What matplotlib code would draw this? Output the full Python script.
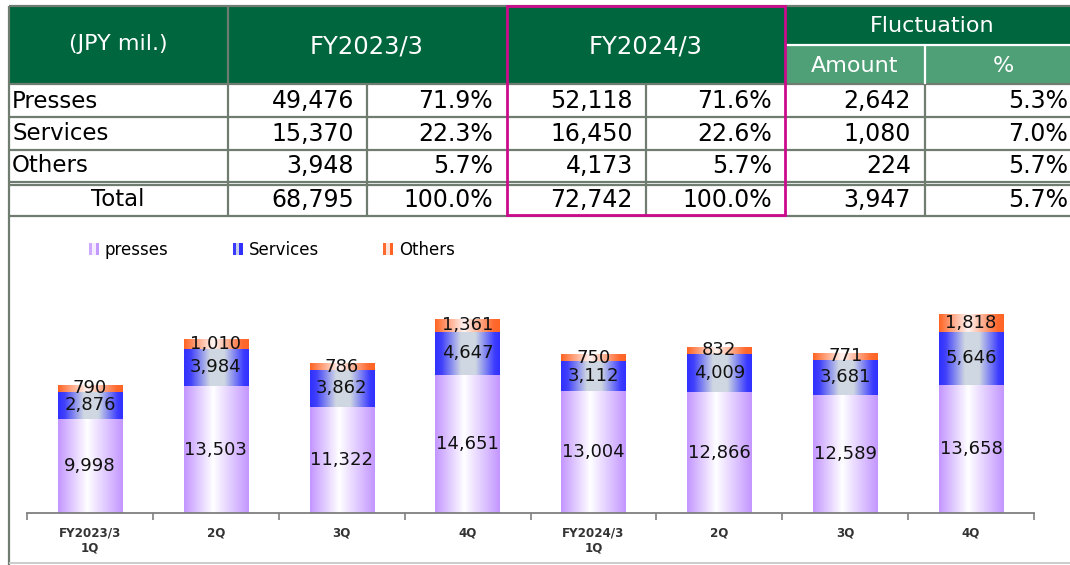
import numpy as np
import matplotlib
matplotlib.use("Agg")
import matplotlib.pyplot as plt
from matplotlib.patches import Rectangle, Patch
from matplotlib.colors import LinearSegmentedColormap
from matplotlib.legend_handler import HandlerBase

plt.rcParams['font.family'] = ['DejaVu Sans']

# ---------------- data ----------------
row_labels = ['Presses', 'Services', 'Others', 'Total']
fy23_amt = [49476, 15370, 3948, 68795]
fy23_pct = [71.9, 22.3, 5.7, 100.0]
fy24_amt = [52118, 16450, 4173, 72742]
fy24_pct = [71.6, 22.6, 5.7, 100.0]
fluct_amt = [2642, 1080, 224, 3947]
fluct_pct = [5.3, 7.0, 5.7, 5.7]

header_unit = '(JPY mil.)'
header_fy23 = 'FY2023/3'
header_fy24 = 'FY2024/3'
header_fluct = 'Fluctuation'
header_amount = 'Amount'
header_pct = '%'

quarters = ['FY2023/3\n1Q', '2Q', '3Q', '4Q', 'FY2024/3\n1Q', '2Q', '3Q', '4Q']
series_names = ['presses', 'Services', 'Others']
presses = [9998, 13503, 11322, 14651, 13004, 12866, 12589, 13658]
services = [2876, 3984, 3862, 4647, 3112, 4009, 3681, 5646]
others = [790, 1010, 786, 1361, 750, 832, 771, 1818]

# ---------------- styles ----------------
W, H = 1070, 565
GREEN = '#00663e'
LGREEN = '#50a077'
GRAY = '#6f7d71'
MAGENTA = '#cc0a8c'

fig = plt.figure(figsize=(W / 100, H / 100), dpi=100)

# ---------------- chart ----------------
ax = fig.add_axes([27 / W, (H - 513) / H, (1034 - 27) / W, (513 - 230) / H])
ax.set_facecolor('none')

grad = np.linspace(0, 1, 256).reshape(1, -1)
cm_press = LinearSegmentedColormap.from_list('p', [(0, '#c396ff'), (0.45, '#ffffff'), (1, '#c396ff')])
cm_serv = LinearSegmentedColormap.from_list('s', [(0, '#3030ff'), (0.1, '#4040fb'), (0.4, '#cfd7e2'),
                                                  (0.62, '#cfd7e2'), (0.92, '#3c3cff'), (1, '#3030ff')])
cm_oth = LinearSegmentedColormap.from_list('o', [(0, '#ff6424'), (0.45, '#fff4f2'), (0.9, '#ff6a30'), (1, '#ff6424')])

x = np.arange(len(quarters))
bw = 0.51
bottoms = np.zeros(len(quarters))
for vals, cmap in [(presses, cm_press), (services, cm_serv), (others, cm_oth)]:
    bars = ax.bar(x, vals, bw, bottom=bottoms, facecolor='none', edgecolor='none', zorder=2)
    for r in bars:
        x0, y0 = r.get_xy()
        im = ax.imshow(grad, cmap=cmap, extent=(x0, x0 + r.get_width(), y0, y0 + r.get_height()),
                       aspect='auto', interpolation='bilinear', origin='lower', zorder=2)
        im.set_clip_path(r)
    ax.bar_label(bars, labels=[f'{v:,}' for v in vals], label_type='center', fontsize=13,
                 color='#111111', zorder=4)
    bottoms = bottoms + np.array(vals)

ax.set_aspect('auto')
ax.set_xlim(-0.5, len(quarters) - 0.5)
ax.set_ylim(0, 30100)
for s in ['top', 'right', 'left']:
    ax.spines[s].set_visible(False)
ax.spines['bottom'].set_color('#7f7f7f')
ax.spines['bottom'].set_linewidth(1.3)
ax.set_yticks([])
ax.set_xticks(np.arange(-0.5, len(quarters)))
ax.set_xticklabels([])
ax.set_xticks(x, labels=quarters, minor=True)
ax.tick_params(axis='x', which='major', length=5, width=1.2, color='#7f7f7f', direction='out')
ax.tick_params(axis='x', which='minor', length=0, pad=9.5, labelsize=8.6, labelcolor='#333333')
for t in ax.get_xticklabels(minor=True):
    t.set_fontweight('bold')
    t.set_linespacing(1.25)


class StripeHandler(HandlerBase):
    def __init__(self, colors):
        super().__init__()
        self.colors = colors

    def create_artists(self, legend, orig_handle, xdescent, ydescent, width, height, fontsize, trans):
        n = len(self.colors)
        arts = []
        for i, c in enumerate(self.colors):
            arts.append(Rectangle((-xdescent + i * width / n, -ydescent), width / n, height,
                                  facecolor=c, edgecolor='none', transform=trans))
        return arts


handles = [Patch(label=n) for n in series_names]
hmap = {
    handles[0]: StripeHandler(['#cfa8ff', '#f4ecff', '#c598ff']),
    handles[1]: StripeHandler(['#3a3aff', '#c8d0ea', '#3030ff']),
    handles[2]: StripeHandler(['#ff6a30', '#ffe4dc', '#ff6424']),
}
fig.legend(handles=handles, handler_map=hmap, loc='center left',
           bbox_to_anchor=(89 / W, 1 - 250 / H), bbox_transform=fig.transFigure,
           ncol=3, frameon=False, fontsize=12, handlelength=0.6, handleheight=0.75,
           handletextpad=0.35, columnspacing=3.85, borderpad=0, borderaxespad=0)

# ---------------- table (pixel coordinates overlay) ----------------
ov = fig.add_axes([0, 0, 1, 1], zorder=5)
ov.set_xlim(0, W)
ov.set_ylim(H, 0)
ov.axis('off')
ov.patch.set_visible(False)

# header fills
ov.add_patch(Rectangle((9, 6), W - 9, 84 - 6, facecolor=GREEN, edgecolor='none'))
ov.add_patch(Rectangle((785, 45), W - 785, 84 - 45, facecolor=LGREEN, edgecolor='none'))

lw = 1.6
def hline(y, x0, x1, c=GRAY, w=lw):
    ov.plot([x0, x1], [y, y], color=c, lw=w, solid_capstyle='butt')
def vline(x_, y0, y1, c=GRAY, w=lw):
    ov.plot([x_, x_], [y0, y1], color=c, lw=w, solid_capstyle='butt')

hline(6, 9, W)
vline(9, 6, H)
hline(84, 9, W)
for yy in [117, 150, 182, 185, 216]:
    hline(yy, 9, W)
vline(228, 6, 216)
for xx in [367, 646, 925]:
    vline(xx, 84, 216)
hline(45, 786, W, c='white', w=1.6)
vline(925, 45, 84, c='white', w=1.6)
hline(563, 9, W, c='#c8c8c8', w=1.3)

# magenta highlight
ov.add_patch(Rectangle((507, 6), 785 - 507, 215 - 6, facecolor='none', edgecolor=MAGENTA, lw=2.0, zorder=6))

hfs = 16
ov.text(118, 44, header_unit, color='white', fontsize=hfs, ha='center', va='center')
ov.text(367, 46, header_fy23, color='white', fontsize=17.5, ha='center', va='center')
ov.text(646, 46, header_fy24, color='white', fontsize=17.5, ha='center', va='center')
ov.text(932, 26, header_fluct, color='white', fontsize=hfs, ha='center', va='center')
ov.text(855, 66, header_amount, color='white', fontsize=hfs, ha='center', va='center')
ov.text(1003, 66, header_pct, color='white', fontsize=hfs, ha='center', va='center')

row_y = [101, 134, 166, 200]
right_edges = [354, 493, 633, 772, 911, 1068]
for i, lab in enumerate(row_labels):
    y = row_y[i]
    if lab == 'Total':
        ov.text(118, y, lab, fontsize=16.5, ha='center', va='center', color='black')
    else:
        ov.text(12, y, lab, fontsize=16.5, ha='left', va='center', color='black')
    vals = [f'{fy23_amt[i]:,}', f'{fy23_pct[i]:.1f}%', f'{fy24_amt[i]:,}', f'{fy24_pct[i]:.1f}%',
            f'{fluct_amt[i]:,}', f'{fluct_pct[i]:.1f}%']
    for xr, v in zip(right_edges, vals):
        ov.text(xr, y, v, fontsize=17, ha='right', va='center', color='black')

fig.savefig('out.png', dpi=100)
